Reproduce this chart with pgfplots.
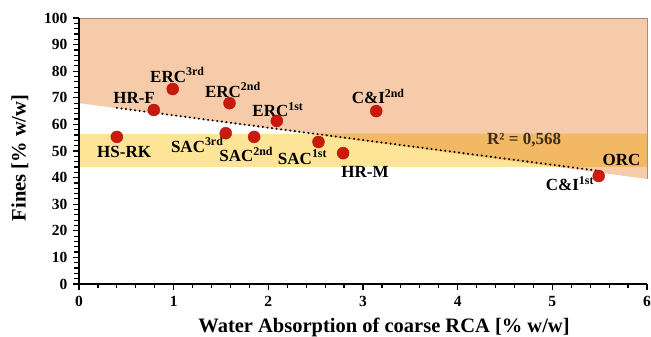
\documentclass[border=0pt]{standalone}
\usepackage{pgfplots}
\pgfplotsset{compat=1.18}
\usepackage{fontspec}
\setmainfont{Liberation Serif}
\definecolor{pinkfill}{HTML}{F5CBAA}
\definecolor{yellowfill}{HTML}{FDE496}
\definecolor{orangefill}{HTML}{F2B864}
\definecolor{pinkedge}{HTML}{A88C7C}
\definecolor{dotred}{HTML}{C40A00}
\definecolor{rtext}{HTML}{3E2C1A}
\newcommand{\lab}{\fontsize{17}{20}\selectfont\bfseries}
\newcommand{\tl}{\fontsize{15.5}{18}\selectfont\bfseries}
\begin{document}
\begin{tikzpicture}
\path[use as bounding box] (-79pt,-53pt) rectangle (572pt,284pt);
\begin{axis}[
  scale only axis, width=568pt, height=266pt,
  xmin=0, xmax=6, ymin=0, ymax=100,
  separate axis lines,
  every outer x axis line/.append style={draw=none},
  every outer y axis line/.append style={draw=none},
  xtick pos=bottom, ytick pos=left,
  axis on top,
  xtick={0,1,2,3,4,5,6}, ytick={0,10,...,100},
  minor x tick num=4, minor y tick num=4,
  tick align=outside,
  major tick length=6pt, minor tick length=4.5pt,
  every tick/.style={black, line width=1.2pt},
  /pgf/number format/assume math mode=true,
  yticklabel style={font=\tl, xshift=-2pt},
  xticklabel style={font=\tl, yshift=-3pt},
  xlabel={Water Absorption of coarse RCA [\% w/w]},
  ylabel={Fines [\% w/w]},
  every axis x label/.style={at={(axis description cs:0.537,0)}, anchor=base, yshift=-49pt},
  every axis y label/.style={at={(axis description cs:-0.104,0.474)}, rotate=90, anchor=center},
  label style={font=\fontsize{20.5}{24}\selectfont\bfseries},
  clip=false,
]
% shaded regions
\addplot[fill=pinkfill, draw=none] coordinates {(0,68) (6,39.5) (6,100) (0,100)} -- cycle;
\addplot[draw=pinkedge, line width=0.8pt] coordinates {(0,100) (6,100) (6,39.5)};
\addplot[fill=yellowfill, draw=none] coordinates {(0,44) (6,44) (6,56.5) (0,56.5)} -- cycle;
\addplot[fill=orangefill, draw=none] coordinates {(2.421,56.5) (6,56.5) (6,44) (5.053,44)} -- cycle;
% axis lines (left and bottom)
\addplot[black, line width=1.4pt] coordinates {(0,100) (0,0) (6,0)};
% trend line
\addplot[black, line width=2.3pt, line cap=round, dash pattern=on 0pt off 4.6pt] coordinates {(0.4,66.2) (5.5,42.5)};
% data points
\addplot[only marks, mark=*, mark size=6pt, mark options={fill=dotred, draw=dotred, fill opacity=0.92, draw opacity=0.92}] coordinates {
  (0.40,55.3) (0.79,65.4) (0.99,73.3) (1.59,68.0) (1.55,56.7) (1.85,55.3)
  (2.09,61.3) (2.53,53.4) (2.79,49.2) (3.14,65.0) (5.49,40.6)
};
% labels
\node[anchor=base west, inner sep=0pt, font=\lab] at (axis cs:0.75,75.9) {ERC\textsuperscript{3rd}};
\node[anchor=base west, inner sep=0pt, font=\lab] at (axis cs:0.36,68.0) {HR-F};
\node[anchor=base west, inner sep=0pt, font=\lab] at (axis cs:1.33,70.3) {ERC\textsuperscript{2nd}};
\node[anchor=base west, inner sep=0pt, font=\lab] at (axis cs:1.83,62.8) {ERC\textsuperscript{1st}};
\node[anchor=base west, inner sep=0pt, font=\lab] at (axis cs:0.19,47.7) {HS-RK};
\node[anchor=base west, inner sep=0pt, font=\lab] at (axis cs:0.97,49.6) {SAC\textsuperscript{3rd}};
\node[anchor=base west, inner sep=0pt, font=\lab] at (axis cs:1.48,45.9) {SAC\textsuperscript{2nd}};
\node[anchor=base west, inner sep=0pt, font=\lab] at (axis cs:2.10,45.1) {SAC\textsuperscript{1st}};
\node[anchor=base west, inner sep=0pt, font=\lab] at (axis cs:2.77,40.2) {HR-M};
\node[anchor=base west, inner sep=0pt, font=\lab] at (axis cs:2.88,67.7) {C\&I\textsuperscript{2nd}};
\node[anchor=base west, inner sep=0pt, font=\lab, text=rtext] at (axis cs:4.31,52.3) {R² = 0,568};
\node[anchor=base west, inner sep=0pt, font=\lab] at (axis cs:5.53,44.7) {ORC};
\node[anchor=base west, inner sep=0pt, font=\lab] at (axis cs:4.93,35.0) {C\&I\textsuperscript{1st}};
\end{axis}
\end{tikzpicture}
\end{document}
